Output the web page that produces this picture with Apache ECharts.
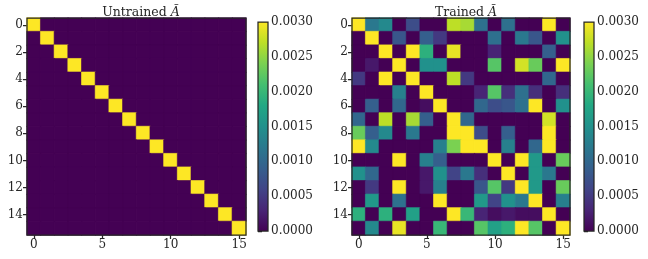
<!DOCTYPE html>
<html>
<head>
<meta charset="utf-8">
<script src="https://cdn.jsdelivr.net/npm/echarts@6/dist/echarts.min.js"></script>
<style>html,body{margin:0;padding:0;background:#fff}#c{width:648px;height:259px}</style>
</head>
<body>
<div id="c"></div>
<script>
// ---- data ----
const N = 16;
const categories = Array.from({length: N}, (_, i) => String(i));
const xTickLabels = ['0', '5', '10', '15'];
const yTickLabels = ['0', '2', '4', '6', '8', '10', '12', '14'];
const colorbarTicks = [0, 0.0005, 0.0010, 0.0015, 0.0020, 0.0025, 0.0030];
const vMin = 0, vMax = 0.003;
// untrained: identity-like (diagonal saturated)
const untrainedDiag = 30;   // in units of 1e-4
const untrainedOff = 0;
// trained matrix, values in units of 1e-4 (rows = y, cols = x)
const SCALE = 1e-4;
const trained = [
  [30,12,14, 0, 7, 0, 0,27,26,11, 0,11, 0, 0,30, 0],
  [ 0,30, 0, 8, 0, 9, 5, 0, 0, 0,11, 0,12, 8, 0,15],
  [ 0, 0,30, 0,30,19, 0,29, 0, 0, 3, 0, 0, 0, 9, 0],
  [ 0, 2, 0,30, 0,15,15, 0, 0, 0,22, 0,28,23, 0,30],
  [ 5, 0,30, 0,30, 0, 0,27, 5, 0, 0, 0, 0, 0,10, 0],
  [ 0, 0, 0,13, 0,30, 0, 0, 0, 3,22, 4,11, 4, 0, 4],
  [ 0, 9, 0,10, 0, 1,30, 0, 0,10, 7, 8,11,30, 0,15],
  [10, 0,27, 0,26, 9, 0,30,10, 0, 0, 0, 0, 0,28, 0],
  [23, 9,14, 0,12, 0, 0,30,30, 7, 0, 9, 0, 0,30, 0],
  [30,14, 0, 0, 0, 0,13,24,30,30, 0,13, 0,10,30, 0],
  [ 0, 0, 0,30, 0,13, 9, 0, 0, 0,30, 0,30,16, 0,23],
  [15,10, 0, 0, 0, 2,15, 6,12, 4, 0,30, 0,16,12, 0],
  [ 0, 5, 0,30, 0, 2,13, 0, 0, 8,22, 5,30,16, 0,23],
  [ 0,16, 0,11, 0, 0,30, 0, 0,16, 6,15,12,30, 0,13],
  [19, 0,19, 0,17, 0, 0,30,20, 3, 1, 2, 1, 1,30, 0],
  [ 0,14, 0,29, 0, 0,20, 0, 0,22,17,19,30,22, 0,30]
];
const viridis = ['#440154','#482475','#414487','#355f8d','#2a788e','#21918c','#22a884','#44bf70','#7ad151','#bddf26','#fde725'];

// ---- colormap ----
function hex2rgb(h) { return [1, 3, 5].map(i => parseInt(h.slice(i, i + 2), 16)); }
const viridisRGB = viridis.map(hex2rgb);
function cmap(v) {
  let t = (v - vMin) / (vMax - vMin);
  t = Math.max(0, Math.min(1, t));
  const p = t * (viridisRGB.length - 1);
  const i = Math.min(Math.floor(p), viridisRGB.length - 2);
  const f = p - i;
  const a = viridisRGB[i], b = viridisRGB[i + 1];
  const c = a.map((x, k) => Math.round(x + (b[k] - x) * f));
  return 'rgb(' + c.join(',') + ')';
}
function cell(c, r, v) {
  const col = cmap(v);
  return {value: [c, r, v], itemStyle: {color: col, borderColor: col, borderWidth: 0.6}};
}

// ---- build ----
const untrainedData = [];
const trainedData = [];
for (let r = 0; r < N; r++) {
  for (let c = 0; c < N; c++) {
    untrainedData.push(cell(c, r, (r === c ? untrainedDiag : untrainedOff) * SCALE));
    trainedData.push(cell(c, r, trained[r][c] * SCALE));
  }
}
const FONT = 'DejaVu Serif';
const TXT = '#262626';
const FS = 12;
const frame = {show: true, z: 10, backgroundColor: 'transparent', borderColor: TXT, borderWidth: 1.25};
function xAx(gi) {
  return {
    type: 'category', gridIndex: gi, data: categories,
    axisLine: {show: false},
    axisTick: {show: true, alignWithLabel: true, length: 4, lineStyle: {color: TXT, width: 1.25},
      interval: (i, v) => xTickLabels.includes(v)},
    axisLabel: {interval: (i, v) => xTickLabels.includes(v), color: TXT, fontFamily: FONT, fontSize: FS, margin: 4},
    splitLine: {show: false}
  };
}
function yAx(gi) {
  return {
    type: 'category', gridIndex: gi, data: categories, inverse: true,
    axisLine: {show: false},
    axisTick: {show: true, alignWithLabel: true, length: 4, lineStyle: {color: TXT, width: 1.25},
      interval: (i, v) => yTickLabels.includes(v)},
    axisLabel: {interval: (i, v) => yTickLabels.includes(v), color: TXT, fontFamily: FONT, fontSize: FS, margin: 4},
    splitLine: {show: false}
  };
}
function cbGradient() {
  return {type: 'linear', x: 0, y: 1, x2: 0, y2: 0,
    colorStops: viridis.map((c, i) => ({offset: i / (viridis.length - 1), color: c}))};
}
function cbY(gi) {
  return {
    type: 'value', gridIndex: gi, position: 'right', min: vMin, max: vMax, interval: 0.0005,
    axisLine: {show: false}, splitLine: {show: false},
    axisTick: {show: true, length: 4, lineStyle: {color: TXT, width: 1.25}},
    axisLabel: {color: TXT, fontFamily: FONT, fontSize: FS, margin: 3,
      formatter: v => colorbarTicks.some(t => Math.abs(t - v) < 1e-9) ? v.toFixed(4) : ''}
  };
}
function cbX(gi) {
  return {type: 'value', gridIndex: gi, show: false, min: 0, max: 1};
}
const titleStyle = {fontFamily: FONT, fontSize: 12.5, fontWeight: 'normal', color: TXT,
  rich: {i: {fontFamily: FONT, fontSize: 12.5, fontStyle: 'italic', color: TXT}}};
const chart = echarts.init(document.getElementById('c'), null, {renderer: 'canvas'});
chart.setOption({
  animation: false,
  backgroundColor: '#fff',
  title: [
    {text: 'Untrained {i|Ã}', left: 136, top: 1, textAlign: 'center', textStyle: titleStyle},
    {text: 'Trained {i|Ã}', left: 461, top: 1, textAlign: 'center', textStyle: titleStyle}
  ],
  grid: [
    Object.assign({left: 27, top: 18, width: 219, height: 217}, frame),
    Object.assign({left: 352, top: 18, width: 218, height: 217}, frame),
    {left: 258, top: 22, width: 10, height: 209, show: true, z: 10, backgroundColor: cbGradient(), borderColor: TXT, borderWidth: 1.25},
    {left: 584, top: 22, width: 10, height: 209, show: true, z: 10, backgroundColor: cbGradient(), borderColor: TXT, borderWidth: 1.25}
  ],
  xAxis: [xAx(0), xAx(1), cbX(2), cbX(3)],
  yAxis: [yAx(0), yAx(1), cbY(2), cbY(3)],
  series: [
    {type: 'heatmap', xAxisIndex: 0, yAxisIndex: 0, data: untrainedData, emphasis: {disabled: true}},
    {type: 'heatmap', xAxisIndex: 1, yAxisIndex: 1, data: trainedData, emphasis: {disabled: true}}
  ]
});
</script>
</body>
</html>
